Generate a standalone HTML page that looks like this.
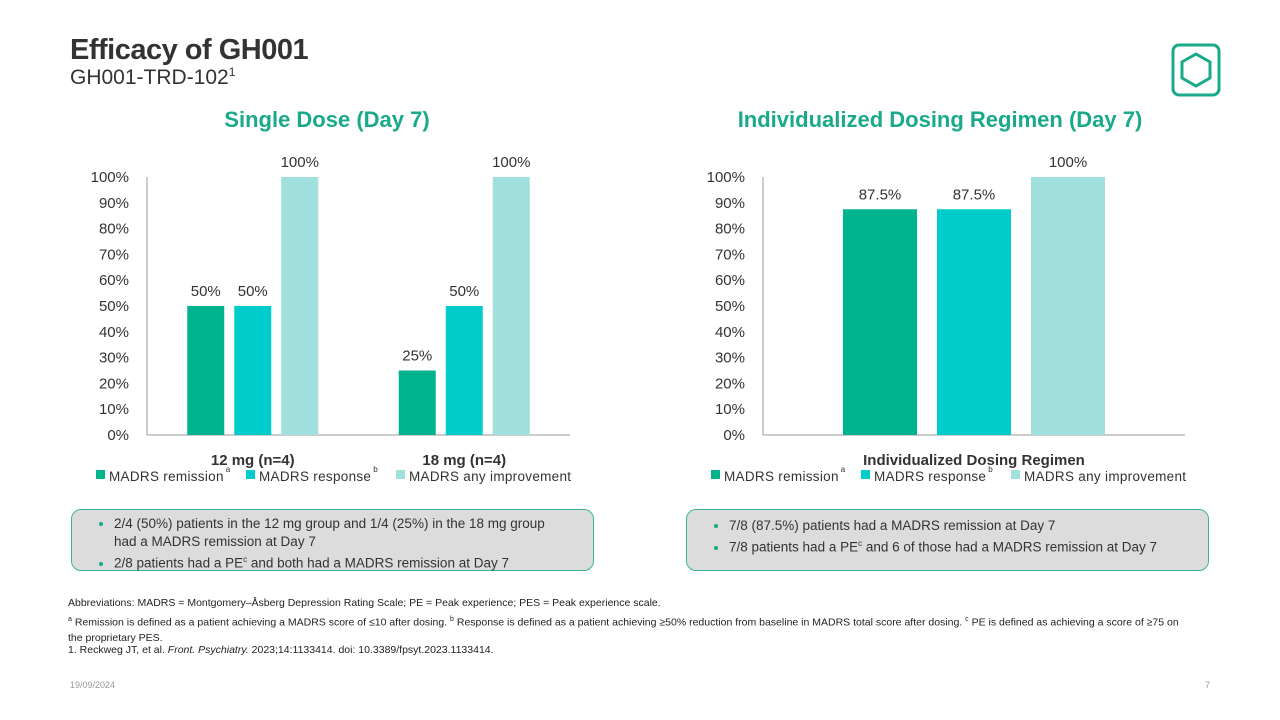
<!DOCTYPE html>
<html><head><meta charset="utf-8"><style>
body{margin:0;width:1280px;height:720px;background:#fff;font-family:"Liberation Sans",sans-serif;position:relative;overflow:hidden;color:#333}
.abs{position:absolute}
.box{position:absolute;top:509px;height:62px;width:523px;background:#dcdcdc;border:1.5px solid #3fb39a;border-radius:10px;box-sizing:border-box;font-size:13.5px;color:#333}
.box ul{margin:5px 40px 0 0;padding-left:42px;line-height:18px}
.box li{padding-left:0}
.box li::marker{color:#1aaa8a}
.fn{left:68px;font-size:10.5px;color:#222}
</style></head><body>
<div class="abs" style="left:70px;top:34px;font-size:29px;font-weight:bold;color:#333;letter-spacing:-0.5px">Efficacy of GH001</div>
<div class="abs" style="left:70px;top:65px;font-size:21px;color:#333">GH001-TRD-102<sup style="font-size:12px">1</sup></div>
<svg class="abs" style="left:1170px;top:42px" width="52" height="56" viewBox="0 0 52 56"><rect x="3" y="3" width="46" height="50" rx="6" fill="none" stroke="#1aaa8a" stroke-width="3"/><polygon points="26,12 40,20 40,36 26,44 12,36 12,20" fill="none" stroke="#1aaa8a" stroke-width="3"/></svg>
<div class="abs" style="left:147px;width:360px;top:107px;text-align:center;font-size:22px;font-weight:bold;color:#1aaa8a">Single Dose (Day 7)</div>
<div class="abs" style="left:700px;width:480px;top:107px;text-align:center;font-size:22px;font-weight:bold;color:#1aaa8a">Individualized Dosing Regimen (Day 7)</div>
<svg id="chart" class="abs" style="left:0;top:0" width="1280" height="500"></svg>
<div class="box" style="left:71px"><ul><li>2/4 (50%) patients in the 12 mg group and 1/4 (25%) in the 18 mg group had a MADRS remission at Day 7</li><li>2/8 patients had a PE<sup style="font-size:8px">c</sup> and both had a MADRS remission at Day 7</li></ul></div>
<div class="box" style="left:686px"><ul style="margin-top:7px"><li>7/8 (87.5%) patients had a MADRS remission at Day 7</li><li>7/8 patients had a PE<sup style="font-size:8px">c</sup> and 6 of those had a MADRS remission at Day 7</li></ul></div>
<div class="abs fn" style="top:597px">Abbreviations: MADRS = Montgomery–Åsberg Depression Rating Scale; PE = Peak experience; PES = Peak experience scale.</div>
<div class="abs fn" style="top:612px;width:1120px;line-height:15.5px"><sup style="font-size:7px">a</sup> Remission is defined as a patient achieving a MADRS score of ≤10 after dosing. <sup style="font-size:7px">b</sup> Response is defined as a patient achieving ≥50% reduction from baseline in MADRS total score after dosing. <sup style="font-size:7px">c</sup> PE is defined as achieving a score of ≥75 on the proprietary PES.</div>
<div class="abs fn" style="top:644px">1. Reckweg JT, et al. <i>Front. Psychiatry.</i> 2023;14:1133414. doi: 10.3389/fpsyt.2023.1133414.</div>
<div class="abs" style="left:70px;top:680px;font-size:9px;color:#999">19/09/2024</div>
<div class="abs" style="left:1205px;top:680px;font-size:9px;color:#999">7</div>
<script>
const leftCategories=["12 mg (n=4)","18 mg (n=4)"];
const leftRemission=[50,25];
const leftResponse=[50,50];
const leftImprovement=[100,100];
const rightCategories=["Individualized Dosing Regimen"];
const rightRemission=[87.5];
const rightResponse=[87.5];
const rightImprovement=[100];
const seriesNames=["MADRS remission","MADRS response","MADRS any improvement"];
const seriesSup=["a","b",""];
const ticks=[0,10,20,30,40,50,60,70,80,90,100];
const colors=["#00b38f","#00cccc","#a1e0dc"];
const svg=document.getElementById('chart');
const NS='http://www.w3.org/2000/svg';
function mk(t,a){const e=document.createElementNS(NS,t);for(const k in a)e.setAttribute(k,a[k]);svg.appendChild(e);return e;}
function fmt(v){return v+'%';}
function drawChart(x0,x1,cats,series,barW,gap,prefix){
  const y0=435,y100=177;
  const y=v=>y0-(y0-y100)*v/100;
  ticks.forEach(t=>{const e=mk('text',{x:x0-18,y:y(t)+5,'text-anchor':'end','font-size':15,fill:'#333'});e.textContent=t+'%';
    
    });
  const ax=mk('line',{x1:x0,y1:y0,x2:x0,y2:y100,stroke:'#999'});
  
  
  const bx=mk('line',{x1:x0,y1:y0,x2:x1,y2:y0,stroke:'#999'});
  
  
  const cw=(x1-x0)/cats.length;
  cats.forEach((c,i)=>{
    const cx=x0+cw*(i+0.5);
    const total=3*barW+2*gap;
    series.forEach((s,j)=>{
      const bxp=cx-total/2+j*(barW+gap);
      const r=mk('rect',{x:bxp,y:y(s[i]),width:barW,height:y0-y(s[i]),fill:colors[j]});
      
      
      const l=mk('text',{x:bxp+barW/2,y:y(s[i])-10,'text-anchor':'middle','font-size':15,fill:'#333'});l.textContent=fmt(s[i]);
      
      
    });
    const t=mk('text',{x:cx,y:465,'text-anchor':'middle','font-size':15,'font-weight':'bold',fill:'#333'});t.textContent=c;
    
    
  });
}
function legend(x,prefix){
  let cx=x;
  const widths=[150,150,180];
  seriesNames.forEach((n,j)=>{
    const r=mk('rect',{x:cx,y:470,width:9,height:9,fill:colors[j]});
    
    
    const t=mk('text',{x:cx+13,y:481,'font-size':13.5,fill:'#333','letter-spacing':'0.3'});t.textContent=n;
    
    
    if(seriesSup[j]){const s=mk('text',{x:cx+13+t.getComputedTextLength()+2,y:472,'font-size':8,fill:'#333'});s.textContent=seriesSup[j];}
    cx+=widths[j];
  });
}
drawChart(147,570,leftCategories,[leftRemission,leftResponse,leftImprovement],37,10,'left');
drawChart(763,1185,rightCategories,[rightRemission,rightResponse,rightImprovement],74,20,'right');
legend(96,'left');
legend(711,'right');
</script>
</body></html>
